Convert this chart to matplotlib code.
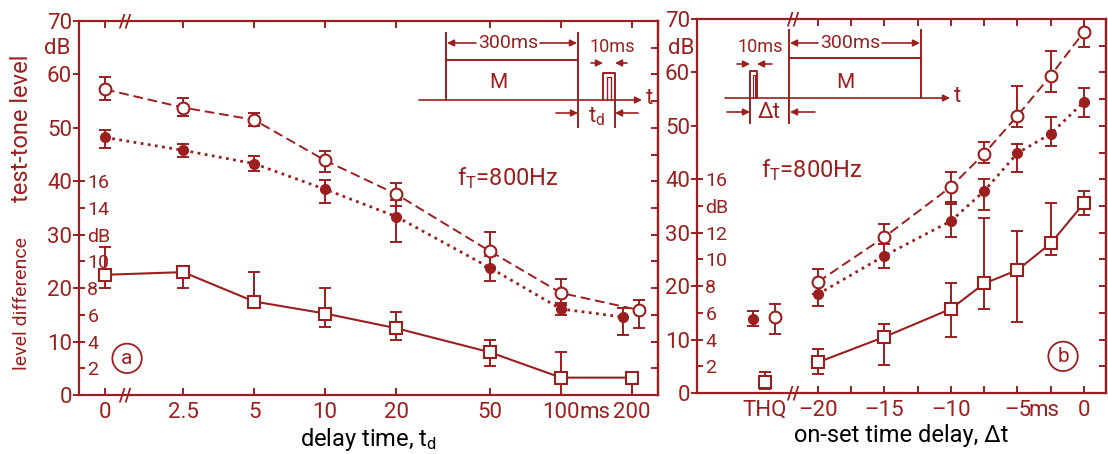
import numpy as np
import matplotlib
matplotlib.use("Agg")
import matplotlib.pyplot as plt

RED = '#9c1f1f'
plt.rcParams['font.family'] = ['Roboto', 'DejaVu Sans']
plt.rcParams['text.color'] = RED
plt.rcParams['axes.edgecolor'] = RED
plt.rcParams['xtick.color'] = RED
plt.rcParams['ytick.color'] = RED
plt.rcParams['mathtext.default'] = 'regular'

# ---- (a) masker first, test tone after a delay t_d ----
delay_ms = [0, 2.5, 5, 10, 20, 50, 100, 200]
delay_labels = ['0', '2.5', '5', '10', '20', '50', '100', '200']

open_a = [57.2, 53.8, 51.5, 43.9, 37.6, 26.9, 19.1, 15.9]
open_a_lo = [55.3, 52.2, 50.3, 41.8, 35.3, 24.0, 16.8, 12.6]
open_a_hi = [59.6, 55.6, 52.8, 45.6, 39.7, 30.6, 21.8, 17.8]

filled_a = [48.2, 45.8, 43.3, 38.5, 33.4, 23.8, 16.1, 14.6]
filled_a_lo = [46.3, 44.6, 42.0, 36.0, 28.7, 21.4, 15.0, 11.3]
filled_a_hi = [49.6, 47.0, 44.8, 40.3, 36.5, 26.0, 17.2, 16.3]

# level difference (right-hand dB scale, 0..28)
diff_a = [9.0, 9.2, 7.0, 6.1, 5.0, 3.2, 1.3, 1.3]
diff_a_lo = [8.0, 8.0, 6.5, 5.1, 4.1, 2.2, 0.0, 0.0]
diff_a_hi = [11.1, 9.6, 9.2, 8.0, 6.2, 4.1, 3.2, 1.6]

# ---- (b) test tone before the masker, on-set delay dt ----
onset_ms = [-20, -15, -10, -7.5, -5, -2.5, 0]
onset_ticks = [-20, -15, -10, -5, 0]
onset_labels = ['–20', '–15', '–10', '–5', '0']
THQ_X = -24

open_b = [20.8, 29.2, 38.6, 44.8, 51.9, 59.4, 67.6]
open_b_lo = [18.5, 27.9, 35.8, 43.0, 49.8, 56.4, 64.8]
open_b_hi = [23.2, 31.6, 41.4, 47.0, 57.5, 64.0, 70.4]

filled_b = [18.5, 25.7, 32.2, 37.8, 44.9, 48.5, 54.5]
filled_b_lo = [16.3, 23.4, 29.2, 34.3, 41.4, 46.3, 51.7]
filled_b_hi = [20.5, 27.9, 35.4, 40.1, 46.6, 51.7, 57.1]

diff_b = [2.3, 4.2, 6.3, 8.2, 9.2, 11.2, 14.2]
diff_b_lo = [1.4, 2.1, 4.2, 6.3, 5.3, 10.3, 13.3]
diff_b_hi = [3.3, 5.2, 8.2, 13.1, 12.1, 14.2, 15.1]

# threshold in quiet
thq_open, thq_open_lo, thq_open_hi = 14.2, 11.0, 16.7
thq_filled, thq_filled_lo, thq_filled_hi = 13.9, 12.5, 15.3
thq_diff, thq_diff_lo, thq_diff_hi = 0.8, 0.3, 1.6

W, H = 1108, 454
fig = plt.figure(figsize=(W / 100, H / 100), dpi=100)


def fx(x):
    return x / W


def fy(y):
    return 1 - y / H


def err(v, lo, hi):
    v, lo, hi = np.asarray(v), np.asarray(lo), np.asarray(hi)
    return [v - lo, hi - v]


def series(ax, x, v, lo, hi, style, connect=True):
    ax.errorbar(x, v, yerr=err(v, lo, hi), fmt='none', ecolor=RED,
                elinewidth=1.4, capsize=4, capthick=1.4, zorder=2)
    if connect:
        ax.plot(x, v, color=RED, lw=style['lw'], ls=style['ls'], zorder=3)
    ax.plot(x, v, ls='none', marker=style['marker'], ms=style['ms'],
            mfc=style['mfc'], mec=RED, mew=1.5, zorder=4)


OPEN = dict(ls=(0, (5, 2.5)), lw=1.4, marker='o', ms=8.5, mfc='white')
FILLED = dict(ls=(0, (1, 1.6)), lw=2.0, marker='o', ms=6.5, mfc=RED)
SQUARE = dict(ls='-', lw=1.5, marker='s', ms=8.5, mfc='white')


def frame(ax, diff_labels):
    for s in ax.spines.values():
        s.set_linewidth(1.6)
    ax.set_ylim(0, 70)
    ax.set_yticks(range(0, 71, 10))
    ax.tick_params(axis='y', direction='out', length=4, width=1.4, pad=1,
                   labelsize=16)
    ax.tick_params(axis='x', which='both', direction='in', length=5,
                   width=1.4, top=True, labelsize=16, pad=5)
    right = ax.secondary_yaxis('right')
    right.set_yticks(range(5, 70, 5))
    right.tick_params(direction='in', length=5, width=1.4, labelright=False)
    right.spines['right'].set_linewidth(1.6)
    # level difference scale, labelled inside the left spine
    ax2 = ax.twinx()
    ax2.set_ylim(0, 28)
    ax2.yaxis.tick_left()
    ax2.set_yticks(range(2, 17, 2))
    ax2.set_yticklabels(diff_labels)
    ax2.tick_params(axis='y', direction='in', length=4, width=1.4, pad=-6,
                    labelsize=14)
    for lbl in ax2.get_yticklabels():
        lbl.set_horizontalalignment('left')
    for s in ax2.spines.values():
        s.set_visible(False)
    return ax2


def axis_break(ax, x):
    for y in (0, 1):
        ax.text(x, y, '//', transform=ax.get_xaxis_transform(), ha='center',
                va='center', fontsize=13, fontweight='bold', color=RED)


# ---------------- panel a ----------------
ax_a = fig.add_axes([fx(79), fy(395), fx(658 - 79), (395 - 21) / H])
ax_a.set_xscale('symlog', linthresh=2.5, linscale=0.298)
ax_a.set_xlim(-0.833, 257.7)
diff_ax_a = frame(ax_a, ['2', '4', '6', '8', '10', 'dB', '14', '16'])
ax_a.set_xticks(delay_ms)
ax_a.set_xticklabels(delay_labels)
ax_a.xaxis.set_minor_locator(matplotlib.ticker.NullLocator())

# the last pair is drawn slightly apart so both stay visible
dodge_open = np.array([1, 1, 1, 1, 1, 1, 1, 2 ** 0.1])
dodge_filled = np.array([1, 1, 1, 1, 1, 1, 1, 2 ** -0.13])
series(ax_a, np.array(delay_ms) * dodge_open, open_a, open_a_lo, open_a_hi, OPEN)
series(ax_a, np.array(delay_ms) * dodge_filled, filled_a, filled_a_lo,
       filled_a_hi, FILLED)
series(diff_ax_a, delay_ms, diff_a, diff_a_lo, diff_a_hi, SQUARE)
axis_break(ax_a, 0.65)
ax_a.annotate('ms', xy=(100, 0), xycoords=ax_a.get_xaxis_transform(),
              xytext=(13, -5), textcoords='offset points', ha='left', va='top',
              fontsize=16)
ax_a.text(0.74, 0.58, 'f$_T$=800Hz', transform=ax_a.transAxes, ha='center',
          va='center', fontsize=17)
ax_a.text(0.083, 0.098, 'a', transform=ax_a.transAxes, ha='center',
          va='center', fontsize=15,
          bbox=dict(boxstyle='circle,pad=0.25', fc='none', ec=RED, lw=1.3))
ax_a.set_xlabel('delay time, t$_d$', fontsize=17, labelpad=2)

# ---------------- panel b ----------------
ax_b = fig.add_axes([fx(697), fy(393), fx(1106 - 697), (393 - 19) / H])
ax_b.set_xlim(-29.1, 1.66)
diff_ax_b = frame(ax_b, ['2', '4', '6', '8', '10', '12', 'dB', '16'])
ax_b.set_xticks([THQ_X] + onset_ticks)
ax_b.set_xticklabels(['THQ'] + onset_labels)
ax_b.set_xticks(np.arange(-17.5, 0, 5), minor=True)
thq_tick = ax_b.xaxis.get_major_ticks()[0]
thq_tick.tick1line.set_visible(False)
thq_tick.tick2line.set_visible(False)

series(ax_b, onset_ms, open_b, open_b_lo, open_b_hi, OPEN)
series(ax_b, onset_ms, filled_b, filled_b_lo, filled_b_hi, FILLED)
series(diff_ax_b, onset_ms, diff_b, diff_b_lo, diff_b_hi, SQUARE)
series(ax_b, [THQ_X + 0.8], [thq_open], [thq_open_lo], [thq_open_hi], OPEN,
       connect=False)
series(ax_b, [THQ_X - 0.9], [thq_filled], [thq_filled_lo], [thq_filled_hi],
       FILLED, connect=False)
series(diff_ax_b, [THQ_X], [thq_diff], [thq_diff_lo], [thq_diff_hi], SQUARE,
       connect=False)
axis_break(ax_b, -21.9)
ax_b.annotate('ms', xy=(-5, 0), xycoords=ax_b.get_xaxis_transform(),
              xytext=(8, -5), textcoords='offset points', ha='left', va='top',
              fontsize=16)
ax_b.text(0.28, 0.595, 'f$_T$=800Hz', transform=ax_b.transAxes, ha='center',
          va='center', fontsize=17)
ax_b.text(0.895, 0.098, 'b', transform=ax_b.transAxes, ha='center',
          va='center', fontsize=15,
          bbox=dict(boxstyle='circle,pad=0.25', fc='none', ec=RED, lw=1.3))
ax_b.set_xlabel('on-set time delay, Δt', fontsize=17, labelpad=2)

fig.text(fx(57), fy(48), 'dB', ha='center', va='center', fontsize=16)
fig.text(fx(681), fy(48), 'dB', ha='center', va='center', fontsize=16)
fig.text(fx(22), fy(128), 'test-tone level', rotation=90, ha='center',
         va='center', fontsize=17)
fig.text(fx(22), fy(303), 'level difference', rotation=90, ha='center',
         va='center', fontsize=14)


# ---------------- timing sketches ----------------
def line(pts, lw=1.4):
    xs = [fx(p[0]) for p in pts]
    ys = [fy(p[1]) for p in pts]
    fig.add_artist(plt.Line2D(xs, ys, color=RED, lw=lw,
                              transform=fig.transFigure))


def arrow(x0, y0, x1, y1):
    fig.add_artist(matplotlib.patches.FancyArrowPatch(
        (fx(x0), fy(y0)), (fx(x1), fy(y1)), transform=fig.transFigure,
        arrowstyle='-|>,head_length=4,head_width=2', color=RED, lw=1.2,
        shrinkA=0, shrinkB=0))


def label(x, y, s, size=14):
    fig.text(fx(x), fy(y), s, ha='center', va='center', fontsize=size)


# forward masking sketch
arrow(419, 100, 642, 100)
label(650, 99, 't', 16)
line([(446, 33), (446, 100)])
line([(446, 60), (578, 60)])
line([(578, 33), (578, 127)])
arrow(476, 43, 447, 43)
arrow(540, 43, 577, 43)
label(508, 43, '300ms', 14)
label(498, 82, 'M', 15)
line([(603, 100), (603, 73), (615, 73), (615, 127)])
line([(607, 100), (607, 77), (611, 77), (611, 100)], lw=1.0)
label(612, 47, '10ms', 13)
arrow(591, 63, 603, 63)
arrow(627, 63, 615, 63)
arrow(556, 113, 578, 113)
arrow(638, 113, 615, 113)
label(597, 117, 't$_d$', 16)

# backward masking sketch
arrow(725, 98, 950, 98)
label(957, 97, 't', 16)
line([(750, 98), (750, 71), (757, 71), (757, 98)])
line([(753, 98), (753, 75), (755, 75), (755, 98)], lw=0.8)
line([(750, 98), (750, 123)])
line([(789, 30), (789, 123)])
line([(789, 58), (921, 58)])
line([(921, 30), (921, 98)])
arrow(818, 43, 790, 43)
arrow(882, 43, 920, 43)
label(850, 43, '300ms', 14)
label(845, 82, 'M', 15)
label(760, 47, '10ms', 13)
arrow(737, 64, 750, 64)
arrow(772, 64, 757, 64)
arrow(727, 112, 750, 112)
arrow(815, 112, 790, 112)
label(769, 112, 'Δt', 16)

fig.savefig('out.png', dpi=100, facecolor='white')
